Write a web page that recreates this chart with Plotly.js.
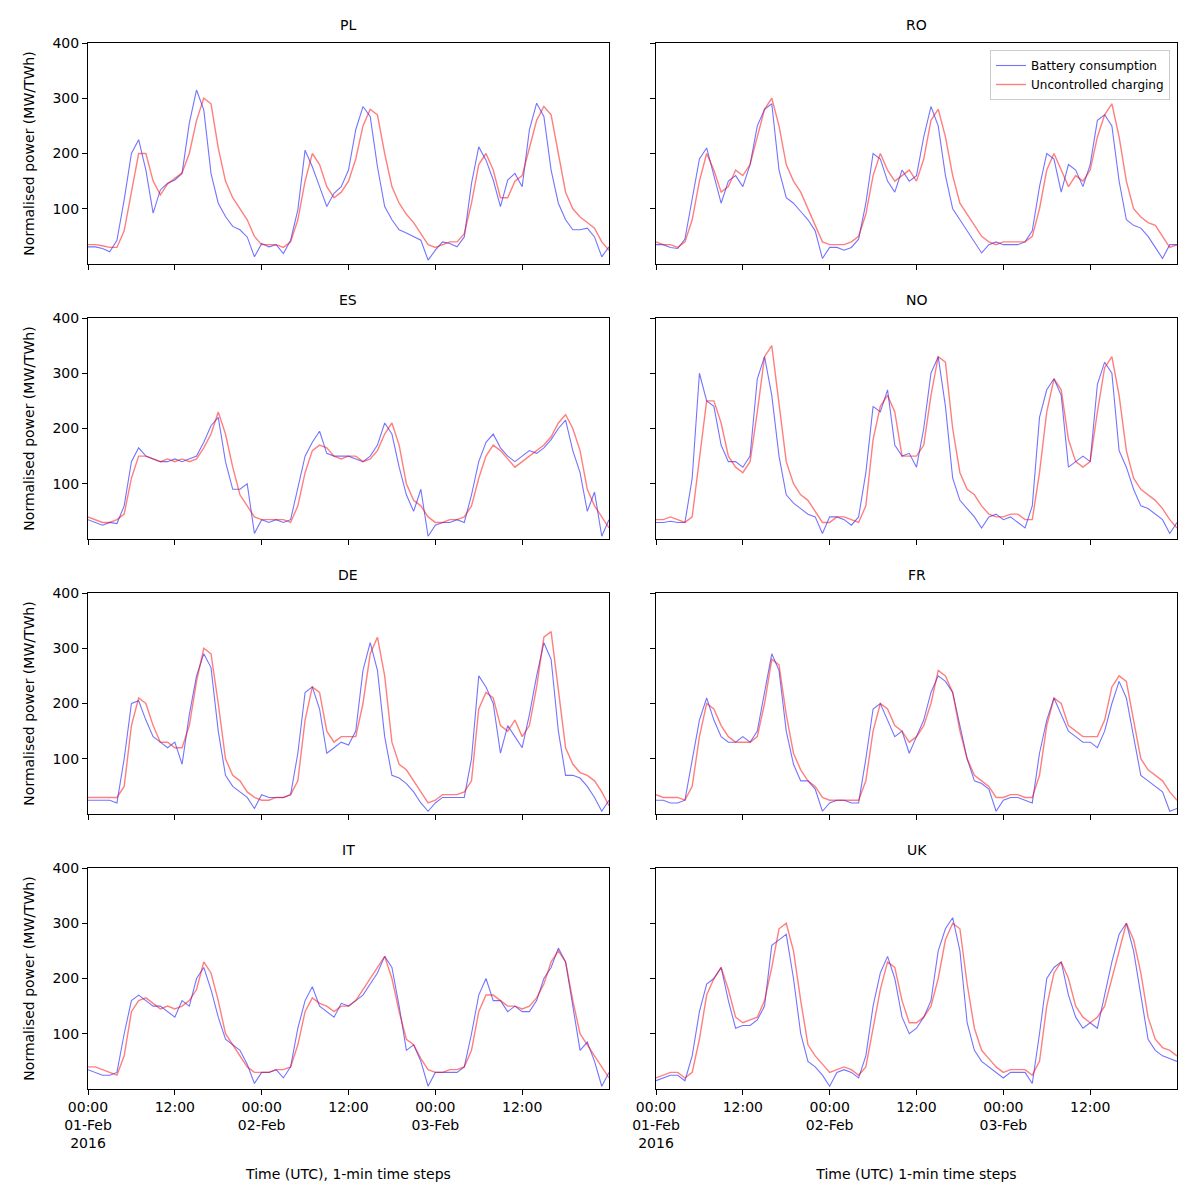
<!DOCTYPE html>
<html>
<head>
<meta charset="utf-8">
<script src="https://cdn.plot.ly/plotly-3.0.1.min.js"></script>
<style>body{margin:0;background:#fff}#plot{width:1192px;height:1200px}</style>
</head>
<body>
<div id="plot"></div>
<script>
"use strict";
// hourly readings, 00:00 01-Feb-2016 .. 00:00 04-Feb-2016 (73 points)
var countries = ["PL", "RO", "ES", "NO", "DE", "FR", "IT", "UK"];
var tickVals = [0, 12, 24, 36, 48, 60];
var tickText = ["00:00<br>01-Feb<br>2016", "12:00", "00:00<br>02-Feb", "12:00", "00:00<br>03-Feb", "12:00"];

var plBat = [31,31,28,22,43,116,200,225,170,92,134,146,152,164,255,315,279,164,110,86,68,62,49,13,
  37,31,35,19,43,98,206,176,140,104,128,140,170,243,285,267,176,104,80,62,56,49,43,7,
  25,40,37,31,49,146,212,188,152,104,152,164,140,243,291,267,170,110,80,62,62,65,49,13,31];
var plUnc = [35,35,33,30,30,60,130,200,200,150,125,145,155,165,200,260,300,290,210,150,120,100,80,50,
  35,35,35,30,40,80,150,200,180,140,120,130,150,190,250,280,270,200,140,110,90,75,55,35,
  30,35,40,40,55,110,180,200,170,120,120,150,160,210,260,285,270,200,130,100,85,75,65,40,25];

var roBat = [35,35,30,28,45,120,190,210,160,110,150,160,140,180,250,280,290,170,120,110,95,80,60,10,
  30,30,25,30,45,110,200,190,150,130,170,150,160,230,285,250,160,100,80,60,40,20,35,40,
  35,35,35,40,60,140,200,190,130,180,170,140,180,260,270,250,150,80,70,65,50,30,10,35,35];
var roUnc = [40,35,35,30,40,80,150,200,170,130,140,170,160,180,230,280,300,250,180,150,130,100,70,40,
  35,35,35,40,50,90,160,200,170,150,160,170,150,190,260,280,230,160,110,90,70,50,40,35,
  40,40,40,40,50,100,170,200,170,140,160,150,170,230,270,290,230,150,100,85,75,70,50,30,35];

var esBat = [35,30,25,30,28,60,140,165,150,145,140,140,145,140,145,150,175,205,220,140,90,90,100,10,
  35,30,35,30,35,90,150,175,195,155,150,150,150,145,140,150,170,210,190,130,80,50,90,5,
  25,30,30,35,30,80,140,175,190,165,150,140,150,160,155,165,180,200,215,160,120,50,85,5,35];
var esUnc = [40,35,30,30,35,45,110,150,150,145,140,145,140,145,140,145,165,190,230,190,130,80,60,40,
  35,35,35,35,30,60,120,160,170,165,150,145,150,150,140,145,160,190,210,170,100,70,60,40,
  30,30,35,35,40,60,110,150,170,160,145,130,140,150,160,170,185,210,225,200,160,90,60,40,20];

var noBat = [30,30,32,30,30,110,300,250,240,170,140,140,130,150,290,330,260,150,80,65,55,45,40,10,
  40,40,35,25,40,120,240,230,270,170,150,155,130,200,300,330,240,110,70,55,40,20,40,45,
  35,40,30,20,60,220,270,290,260,130,140,150,140,280,320,300,160,130,90,60,55,45,35,10,30];
var noUnc = [35,35,40,35,30,40,150,250,250,210,150,130,120,140,230,330,350,250,140,100,80,70,50,30,
  30,40,40,35,30,60,180,240,260,230,150,150,150,170,260,330,320,200,120,90,80,60,45,40,
  40,45,45,35,35,120,230,290,270,180,140,130,140,230,310,330,260,160,110,90,80,70,55,35,20];

var deBat = [25,25,25,25,20,100,200,205,170,140,130,120,130,90,180,250,290,265,150,70,50,40,30,10,
  35,30,30,30,35,110,220,230,190,110,120,130,125,150,260,310,260,140,70,65,55,40,20,5,
  20,30,30,30,30,100,250,230,200,110,160,140,120,180,250,310,280,150,70,70,65,50,30,5,25];
var deUnc = [30,30,30,30,30,50,160,210,200,160,130,130,120,120,160,240,300,290,200,100,70,60,40,30,
  25,25,30,30,35,60,170,230,220,150,130,140,140,140,200,290,320,250,130,90,80,60,40,20,
  25,35,35,35,40,60,190,220,210,160,150,170,140,160,230,320,330,230,120,90,75,70,60,40,15];

var frBat = [25,25,20,20,25,100,170,210,170,140,130,130,140,130,150,220,290,260,150,90,60,60,45,5,
  20,25,25,20,20,100,190,200,170,140,150,110,140,170,220,250,240,220,160,100,60,55,45,5,
  25,30,30,25,20,110,170,210,180,150,140,130,130,120,150,200,240,210,140,70,60,50,40,5,10];
var frUnc = [35,30,30,30,25,50,140,200,190,160,140,130,130,130,140,200,280,270,180,110,80,60,50,30,
  25,25,25,25,25,60,150,200,190,160,150,130,140,160,200,260,250,220,150,100,70,60,50,30,
  30,35,35,30,30,70,160,210,200,160,150,140,140,140,170,230,250,240,170,100,80,70,60,40,25];

var itBat = [35,30,25,25,30,100,160,170,160,150,150,140,130,160,150,200,220,180,130,90,80,70,45,10,
  30,30,35,20,40,110,160,185,150,140,130,155,150,160,170,190,210,240,220,150,70,80,50,5,
  30,30,30,30,40,100,170,200,160,160,140,150,140,140,160,200,220,255,230,150,70,85,50,5,30];
var itUnc = [40,40,35,30,25,60,140,160,165,155,145,150,145,150,160,180,230,210,160,100,80,60,40,30,
  30,30,35,35,40,80,140,165,155,150,140,150,150,160,180,200,220,240,200,140,90,80,55,35,
  30,30,35,35,40,70,140,170,170,160,150,150,145,150,165,190,230,250,230,160,100,80,60,40,20];

var ukBat = [15,20,25,25,15,60,140,190,200,220,160,110,115,115,125,150,260,270,280,200,100,50,40,25,
  5,30,35,30,20,60,150,210,240,200,130,100,110,130,160,250,290,310,250,120,70,50,40,30,
  20,30,30,30,10,100,200,220,230,170,130,110,120,110,170,230,280,300,250,170,90,70,60,55,50];
var ukUnc = [20,25,30,30,20,30,90,170,200,220,180,130,120,125,130,160,220,290,300,250,160,80,60,45,
  30,35,40,35,25,40,110,180,230,220,160,120,120,130,150,200,270,300,290,190,110,70,55,40,
  30,35,35,35,25,50,150,210,230,200,150,130,120,130,150,200,250,300,270,210,130,90,75,70,60];

var bat = [plBat, roBat, esBat, noBat, deBat, frBat, itBat, ukBat];
var unc = [plUnc, roUnc, esUnc, noUnc, deUnc, frUnc, itUnc, ukUnc];

var hours = [];
for (var h = 0; h < plBat.length; h++) hours.push(h);

var W = 1192, H = 1200;
var colX = [[88, 609], [656, 1177]];
var rowY = [[43, 264], [318, 539], [593, 814], [868, 1089]];
var font = {family: "DejaVu Sans", size: 14, color: "#000"};

var data = [];
var layout = {
    width: W, height: H,
    margin: {l: 0, r: 0, t: 0, b: 0},
    paper_bgcolor: "#fff", plot_bgcolor: "#fff",
    font: font,
    showlegend: true,
    legend: {
        x: 1170 / W, y: 1 - 50 / H, xanchor: "right", yanchor: "top",
        bgcolor: "rgba(255,255,255,0.8)", bordercolor: "#ccc", borderwidth: 1,
        tracegroupgap: 0, itemwidth: 30,
        font: {family: "DejaVu Sans", size: 12}
    },
    annotations: []
};

for (var i = 0; i < countries.length; i++) {
    var row = Math.floor(i / 2), col = i % 2;
    var n = i + 1;
    var xa = "x" + n, ya = "y" + n;
    data.push({
        x: hours, y: bat[i], xaxis: xa, yaxis: ya, type: "scatter", mode: "lines",
        name: "Battery consumption", legendgroup: "b", showlegend: i === 1,
        line: {color: "rgba(0,0,255,0.55)", width: 1.1}
    });
    data.push({
        x: hours, y: unc[i], xaxis: xa, yaxis: ya, type: "scatter", mode: "lines",
        name: "Uncontrolled charging", legendgroup: "u", showlegend: i === 1,
        line: {color: "rgba(255,0,0,0.5)", width: 1.4}
    });
    var bottom = row === 3;
    layout["xaxis" + n] = {
        domain: [colX[col][0] / W, colX[col][1] / W], anchor: ya,
        range: [0, 72], tickvals: tickVals, ticktext: tickText,
        showticklabels: bottom, ticks: "outside", ticklen: 5, tickcolor: "#000",
        showgrid: false, zeroline: false, showline: true, linecolor: "#000", mirror: true,
        tickfont: {family: "DejaVu Sans", size: 14},
        title: bottom ? {text: col === 0 ? "Time (UTC), 1-min time steps" : "Time (UTC) 1-min time steps",
            font: {family: "DejaVu Sans", size: 14}, standoff: 18} : undefined
    };
    layout["yaxis" + n] = {
        domain: [1 - rowY[row][1] / H, 1 - rowY[row][0] / H], anchor: xa,
        range: [0, 400], tickvals: [100, 200, 300, 400],
        showticklabels: col === 0, ticks: "outside", ticklen: 5, tickcolor: "#000",
        showgrid: false, zeroline: false, showline: true, linecolor: "#000", mirror: true,
        tickfont: {family: "DejaVu Sans", size: 14},
        title: col === 0 ? {text: "Normalised power (MW/TWh)", font: {family: "DejaVu Sans", size: 14}, standoff: 14} : undefined
    };
    layout.annotations.push({
        text: countries[i], xref: "paper", yref: "paper",
        x: (colX[col][0] + colX[col][1]) / 2 / W, y: 1 - (rowY[row][0] - 8) / H,
        xanchor: "center", yanchor: "bottom", showarrow: false,
        font: {family: "DejaVu Sans", size: 14}
    });
}

Plotly.newPlot("plot", data, layout, {staticPlot: true});
</script>
</body>
</html>
